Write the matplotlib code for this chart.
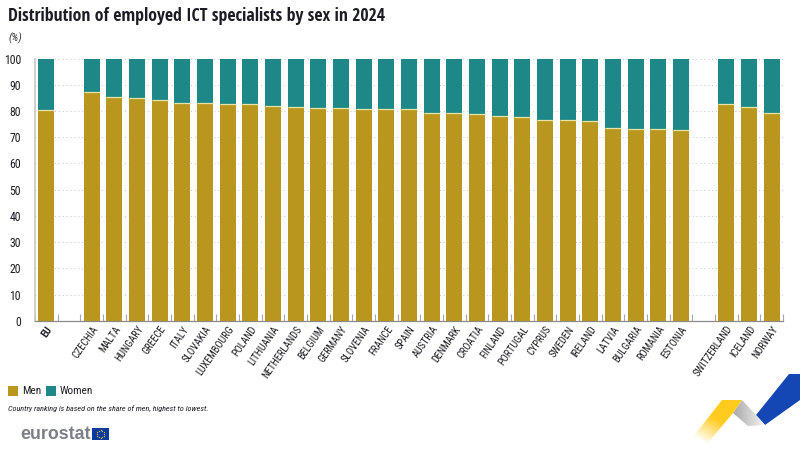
import numpy as np
import matplotlib
matplotlib.use("Agg")
import matplotlib.pyplot as plt
from matplotlib.patches import Polygon, Rectangle

plt.rcParams["font.family"] = ["Roboto Condensed", "DejaVu Sans"]

countries = ["EU", "CZECHIA", "MALTA", "HUNGARY", "GREECE", "ITALY", "SLOVAKIA", "LUXEMBOURG",
             "POLAND", "LITHUANIA", "NETHERLANDS", "BELGIUM", "GERMANY", "SLOVENIA", "FRANCE",
             "SPAIN", "AUSTRIA", "DENMARK", "CROATIA", "FINLAND", "PORTUGAL", "CYPRUS", "SWEDEN",
             "IRELAND", "LATVIA", "BULGARIA", "ROMANIA", "ESTONIA", "SWITZERLAND", "ICELAND", "NORWAY"]
slots = [0] + list(range(2, 29)) + [30, 31, 32]
men = [80.5, 87.1, 85.4, 84.9, 84.1, 83.2, 83.0, 82.8, 82.7, 81.9, 81.4, 81.0, 81.0, 80.9, 80.8,
       80.6, 79.4, 79.2, 79.0, 78.0, 77.6, 76.7, 76.4, 76.0, 73.6, 73.3, 73.0, 72.7, 82.5, 81.7, 79.2]
women = [100 - m for m in men]
yticks = list(range(0, 101, 10))

MEN_C, WOMEN_C = "#B9961E", "#1E8787"
TXT = "#1c1c24"

fig = plt.figure(figsize=(8, 4.5), dpi=100, facecolor="white")
ax = fig.add_axes([35/800, 1-320.8/450, 748/800, 262.3/450])
w = 0.7
ax.bar(slots, men, width=w, color=MEN_C, zorder=3, linewidth=0)
ax.bar(slots, women, bottom=men, width=w, color=WOMEN_C, zorder=3, linewidth=0)
ax.hlines(men, np.array(slots)-w/2, np.array(slots)+w/2, color="#E6E4A6", lw=0.9, zorder=4)
ax.set_xlim(-0.5, 32.5)
ax.set_ylim(0, 100)
ax.set_yticks(yticks)
ax.tick_params(axis="y", length=0, labelsize=8.5, pad=10, labelcolor=TXT)
ax.grid(axis="y", color="#c4c4c4", ls=(0, (1, 3)), lw=0.7, zorder=0)
ax.set_axisbelow(True)
for s in ["top", "right"]:
    ax.spines[s].set_visible(False)
ax.spines["left"].set_color("#c8c8c8")
ax.spines["left"].set_linewidth(1.2)
ax.spines["bottom"].set_color("#8a8a8a")
ax.spines["bottom"].set_linewidth(0.9)

ax.set_xticks(np.arange(-0.5, 33, 1), minor=True)
ax.tick_params(axis="x", which="minor", direction="in", length=5, width=0.8, color="#a8a8a8")
ax.set_xticks(slots)
ax.set_xticklabels(countries, rotation=55, ha="right", va="top", rotation_mode="anchor",
                   fontsize=7.4, color=TXT)
ax.tick_params(axis="x", which="major", length=0, pad=2.5)
ax.get_xticklabels()[0].set_fontweight("bold")

fig.text(8/800, 1-16/450, "Distribution of employed ICT specialists by sex in 2024",
         family=["Open Sans Condensed"], fontsize=12.8, fontweight="bold", color=TXT, va="center", ha="left")
fig.text(8/800, 1-38.5/450, "(%)", fontsize=8, style="italic", color="#333333", va="center")
fig.text(8/800, 1-409/450, "Country ranking is based on the share of men, highest to lowest.",
         fontsize=5.9, style="italic", color=TXT, va="center")
fig.text(22/800, 1-391/450, "Men", fontsize=8, color=TXT, va="center")
fig.text(60/800, 1-391/450, "Women", fontsize=8, color=TXT, va="center")
fig.text(20/800, 1-434.5/450, "eurostat", family=["Liberation Sans"], fontsize=12.8, fontweight="bold",
         color="#7b7f86", va="center")

ov = fig.add_axes([0, 0, 1, 1], zorder=5)
ov.set_xlim(0, 800); ov.set_ylim(450, 0); ov.axis("off"); ov.patch.set_alpha(0)
ov.add_patch(Rectangle((8, 386), 10, 10, color=MEN_C, lw=0))
ov.add_patch(Rectangle((46, 386), 10, 10, color=WOMEN_C, lw=0))
ov.add_patch(Rectangle((92, 428), 17, 12, color="#0B3A9A", lw=0))
ang = np.linspace(0, 2*np.pi, 12, endpoint=False)
ov.scatter(100.5+3.6*np.cos(ang), 434+3.6*np.sin(ang), s=0.8, color="#E8C830", linewidths=0)

ov.add_patch(Polygon([(789, 374), (800, 374), (800, 400), (765, 425), (756, 415)], color="#1446B4", lw=0))
gimg = np.zeros((2, 64, 4))
gimg[..., 3] = 1
gimg[:, :, :3] = np.linspace(0.66, 0.96, 64)[None, :, None]
g = ov.imshow(gimg, extent=(733, 765, 426, 400), aspect="auto", zorder=2)
g.set_clip_path(Polygon([(742, 400), (756, 415), (765, 425), (748, 426), (733, 413)], transform=ov.transData))
yimg = np.zeros((64, 64, 4))
yimg[..., :3] = matplotlib.colors.to_rgb("#FFCC1E")
xx, yy = np.meshgrid(np.linspace(0, 1, 64), np.linspace(0, 1, 64))
yimg[..., 3] = np.clip(2.1 - (1 - xx)*1.0 - yy*1.6, 0, 1)
y_im = ov.imshow(yimg, extent=(689, 742, 450, 400), aspect="auto", zorder=3)
y_im.set_clip_path(Polygon([(722, 400), (742, 400), (733, 413), (702, 450), (689, 442)], transform=ov.transData))
ov.set_xlim(0, 800); ov.set_ylim(450, 0)

fig.savefig("out.png", dpi=100, facecolor="white")
